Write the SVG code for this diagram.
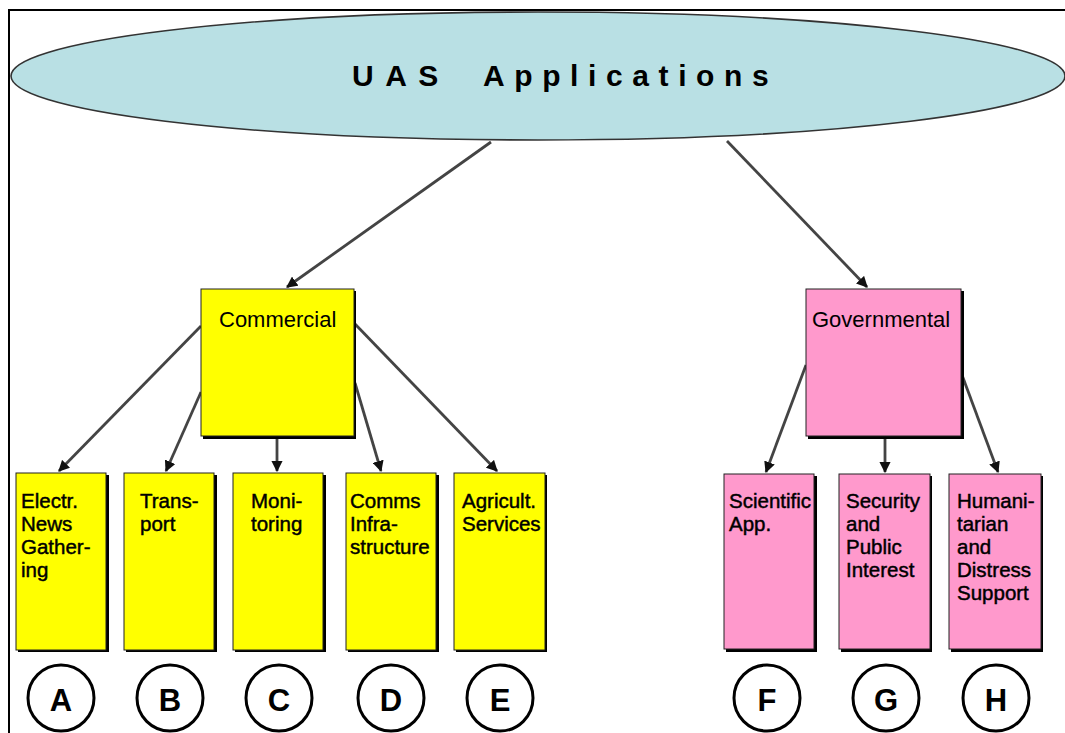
<svg xmlns="http://www.w3.org/2000/svg" width="1065" height="733" viewBox="0 0 1065 733">
<defs>
<marker id="ah" viewBox="0 0 10 10" refX="9" refY="5" markerWidth="4" markerHeight="4" orient="auto" markerUnits="strokeWidth">
<path d="M0,0 L10,5 L0,10 z" fill="#111"/>
</marker>
</defs>
<style>
text{font-family:"Liberation Sans",Arial,sans-serif;fill:#000}
.shadow{fill:#000}
.y{fill:#ffff00;stroke:#222;stroke-width:1}
.p{fill:#ff99cc;stroke:#222;stroke-width:1}
.head{font-size:22px}
.lbl{font-size:20.5px;stroke:#000;stroke-width:0.45}
.conn line{stroke:#444;stroke-width:2.8;marker-end:url(#ah)}
.circ{fill:#fff;stroke:#000;stroke-width:3}
.let{font-size:31px;font-weight:bold;text-anchor:middle}
</style>
<rect x="0" y="0" width="1065" height="733" fill="#fff"/>
<path d="M9,733 V10 H1065" fill="none" stroke="#000" stroke-width="2"/>

<g id="root">
<ellipse cx="538" cy="76" rx="527" ry="64" fill="#b9e0e4" stroke="#333" stroke-width="1.6"/>
<text y="86" font-size="30" font-weight="bold"><tspan x="352" letter-spacing="11.5">UAS</tspan><tspan x="483" letter-spacing="9.6">Applications</tspan></text>
</g>

<g class="conn" id="connectors">
<line x1="491" y1="142" x2="287" y2="287"/>
<line x1="727" y1="141" x2="867" y2="287"/>
<line x1="201" y1="326" x2="59" y2="471"/>
<line x1="201" y1="392" x2="166" y2="471"/>
<line x1="277" y1="438" x2="277" y2="471"/>
<line x1="355" y1="383" x2="381" y2="471"/>
<line x1="355" y1="324" x2="497" y2="471"/>
<line x1="806" y1="365" x2="766" y2="472"/>
<line x1="885" y1="438" x2="885" y2="472"/>
<line x1="962" y1="375" x2="998" y2="472"/>
</g>

<g id="commercial">
<rect class="shadow" x="203" y="291" width="153" height="148"/>
<rect class="y" x="201" y="289" width="153" height="147"/>
<text class="head" x="219" y="327">Commercial</text>
</g>
<g id="governmental">
<rect class="shadow" x="808" y="291" width="156" height="148"/>
<rect class="p" x="806" y="289" width="155" height="147"/>
<text class="head" x="812" y="327">Governmental</text>
</g>

<g id="nodeA">
<rect class="shadow" x="18" y="475" width="91" height="177"/>
<rect class="y" x="16" y="473" width="90" height="177"/>
<text class="lbl" x="21" y="508">Electr.<tspan x="21" dy="23">News</tspan><tspan x="21" dy="23">Gather-</tspan><tspan x="21" dy="23">ing</tspan></text>
</g>
<g id="nodeB">
<rect class="shadow" x="126" y="475" width="91" height="177"/>
<rect class="y" x="124" y="473" width="90" height="177"/>
<text class="lbl" x="140" y="508">Trans-<tspan x="140" dy="23">port</tspan></text>
</g>
<g id="nodeC">
<rect class="shadow" x="235" y="475" width="91" height="177"/>
<rect class="y" x="233" y="473" width="90" height="177"/>
<text class="lbl" x="251" y="508">Moni-<tspan x="251" dy="23">toring</tspan></text>
</g>
<g id="nodeD">
<rect class="shadow" x="348" y="475" width="91" height="177"/>
<rect class="y" x="346" y="473" width="90" height="177"/>
<text class="lbl" x="350" y="508">Comms<tspan x="350" dy="23">Infra-</tspan><tspan x="350" dy="23">structure</tspan></text>
</g>
<g id="nodeE">
<rect class="shadow" x="456" y="475" width="91" height="177"/>
<rect class="y" x="454" y="473" width="91" height="177"/>
<text class="lbl" x="462" y="508">Agricult.<tspan x="462" dy="23">Services</tspan></text>
</g>
<g id="nodeF">
<rect class="shadow" x="726" y="476" width="91" height="176"/>
<rect class="p" x="724" y="474" width="90" height="175"/>
<text class="lbl" x="729" y="508">Scientific<tspan x="729" dy="23">App.</tspan></text>
</g>
<g id="nodeG">
<rect class="shadow" x="841" y="476" width="91" height="176"/>
<rect class="p" x="839" y="474" width="91" height="175"/>
<text class="lbl" x="846" y="508">Security<tspan x="846" dy="23">and</tspan><tspan x="846" dy="23">Public</tspan><tspan x="846" dy="23">Interest</tspan></text>
</g>
<g id="nodeH">
<rect class="shadow" x="951" y="476" width="92" height="176"/>
<rect class="p" x="949" y="474" width="92" height="175"/>
<text class="lbl" x="957" y="508">Humani-<tspan x="957" dy="23">tarian</tspan><tspan x="957" dy="23">and</tspan><tspan x="957" dy="23">Distress</tspan><tspan x="957" dy="23">Support</tspan></text>
</g>

<g id="labelA"><circle class="circ" cx="61" cy="698" r="33"/><text class="let" x="61" y="711">A</text></g>
<g id="labelB"><circle class="circ" cx="170" cy="698" r="33"/><text class="let" x="170" y="711">B</text></g>
<g id="labelC"><circle class="circ" cx="279" cy="698" r="33"/><text class="let" x="279" y="711">C</text></g>
<g id="labelD"><circle class="circ" cx="391" cy="698" r="33"/><text class="let" x="391" y="711">D</text></g>
<g id="labelE"><circle class="circ" cx="500" cy="698" r="33"/><text class="let" x="500" y="711">E</text></g>
<g id="labelF"><circle class="circ" cx="767" cy="698" r="33"/><text class="let" x="767" y="711">F</text></g>
<g id="labelG"><circle class="circ" cx="886" cy="698" r="33"/><text class="let" x="886" y="711">G</text></g>
<g id="labelH"><circle class="circ" cx="996" cy="698" r="33"/><text class="let" x="996" y="711">H</text></g>
</svg>
